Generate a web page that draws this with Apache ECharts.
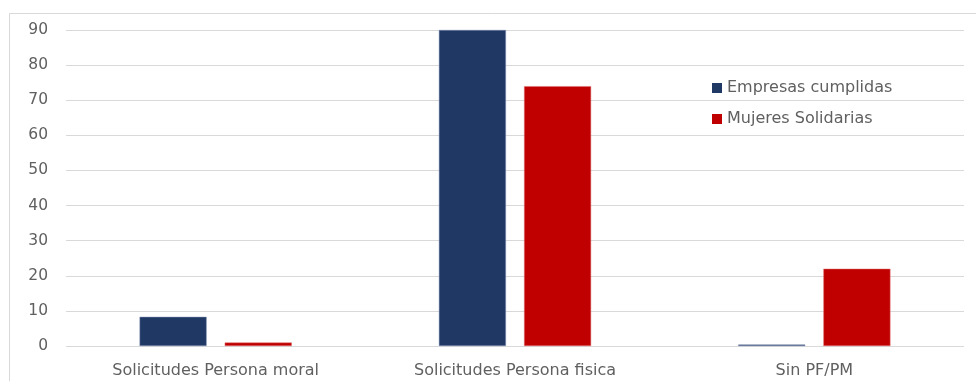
<!DOCTYPE html>
<html><head><meta charset="utf-8">
<script src="https://cdn.jsdelivr.net/npm/echarts@6/dist/echarts.min.js"></script>
<style>html,body{margin:0;padding:0;background:#fff}#c{width:976px;height:381px}</style>
</head><body><div id="c"></div>
<script>
var categories = ['Solicitudes Persona moral', 'Solicitudes Persona fisica', 'Sin PF/PM'];
var seriesNames = ['Empresas cumplidas', 'Mujeres Solidarias'];
var empresas = [8.3, 90, 0.4];
var mujeres = [1, 74, 22];
var yTicks = [0, 10, 20, 30, 40, 50, 60, 70, 80, 90];

var chart = echarts.init(document.getElementById('c'));
var font = '"DejaVu Sans", sans-serif';
chart.setOption({
  animation: false,
  textStyle: {fontFamily: font},
  graphic: [{
    type: 'polyline', silent: true,
    shape: {points: [[9.5, 381], [9.5, 13.5], [976, 13.5]]},
    style: {stroke: '#d9d9d9', lineWidth: 1, fill: null}
  }],
  grid: {left: 66, right: 12, top: 30, bottom: 35},
  legend: {
    orient: 'vertical', left: 707, top: 75, itemGap: 15,
    itemWidth: 10, itemHeight: 10, icon: 'rect',
    itemStyle: {borderWidth: 0},
    textStyle: {color: '#606060', fontSize: 16, fontFamily: font},
    data: seriesNames
  },
  xAxis: {
    type: 'category', data: categories,
    axisLine: {show: false}, axisTick: {show: false},
    axisLabel: {color: '#606060', fontSize: 16, margin: 17, fontFamily: font}
  },
  yAxis: {
    type: 'value', min: yTicks[0], max: yTicks[yTicks.length - 1], interval: 10,
    axisLine: {show: false}, axisTick: {show: false},
    axisLabel: {color: '#606060', fontSize: 15.5, margin: 18, fontFamily: font},
    splitLine: {lineStyle: {color: '#d9d9d9', width: 1}}
  },
  series: [
    {name: seriesNames[0], type: 'bar', data: empresas, barWidth: '22.4%', barGap: '27%',
     itemStyle: {color: '#203864', borderColor: '#7f8fb0', borderWidth: 0.5}},
    {name: seriesNames[1], type: 'bar', data: mujeres, barWidth: '22.4%', barGap: '27%',
     itemStyle: {color: '#c00000', borderColor: '#e07070', borderWidth: 0.5}}
  ]
});
</script></body></html>
